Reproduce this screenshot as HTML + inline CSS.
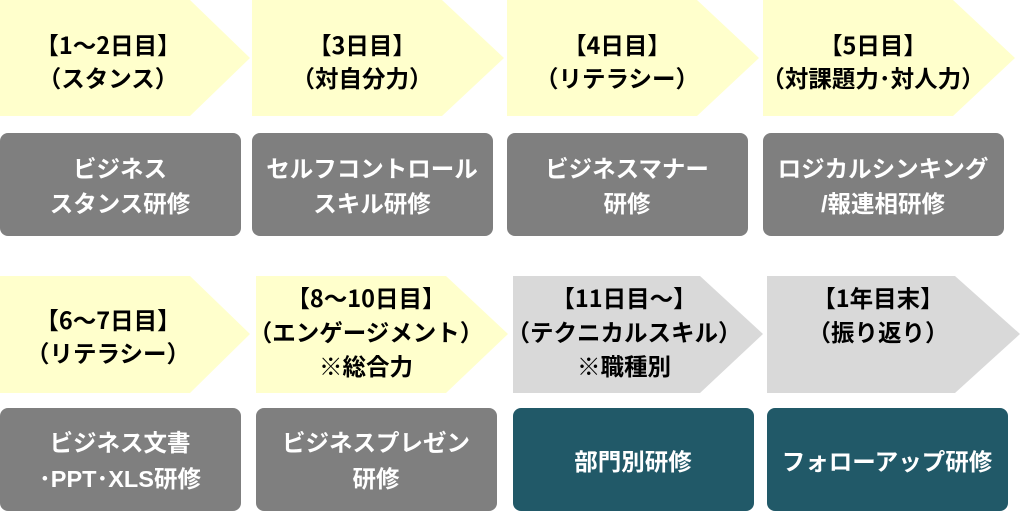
<!DOCTYPE html>
<html><head><meta charset="utf-8"><style>
html,body{margin:0;padding:0;background:#fff}
svg text{font-family:"Liberation Sans","Noto Sans CJK JP",sans-serif;font-weight:bold;font-size:23.5px;text-anchor:middle}
svg text.b{font-family:"Noto Sans CJK JP",sans-serif}
</style></head><body>
<svg width="1023" height="513" viewBox="0 0 1023 513" xmlns="http://www.w3.org/2000/svg">
<polygon points="0,0 190,0 250,58 190,116 0,116" fill="#FFFFCC"/>
<polygon points="252,0 442,0 504,58 442,116 252,116" fill="#FFFFCC"/>
<polygon points="507,0 697,0 759,58 697,116 507,116" fill="#FFFFCC"/>
<polygon points="763,0 953,0 1015,58 953,116 763,116" fill="#FFFFCC"/>
<g fill="#000">
<text class="b" x="108" y="54">【1～2日目】</text><text x="108" y="87">（スタンス）</text>
<text class="b" x="362" y="54">【3日目】</text><text x="362" y="87">（対自分力）</text>
<text class="b" x="617" y="54">【4日目】</text><text x="617" y="87">（リテラシー）</text>
<text class="b" x="873" y="54">【5日目】</text><text x="873" y="87">（対課題力･対人力）</text>
</g>
<rect x="0" y="133" width="241" height="103" rx="8" fill="#7F7F7F"/>
<rect x="252" y="133" width="241" height="103" rx="8" fill="#7F7F7F"/>
<rect x="507" y="133" width="241" height="103" rx="8" fill="#7F7F7F"/>
<rect x="763" y="133" width="241" height="103" rx="8" fill="#7F7F7F"/>
<g fill="#fff">
<text x="120" y="177">ビジネス</text><text x="120" y="212">スタンス研修</text>
<text x="372" y="177">セルフコントロール</text><text x="372" y="212">スキル研修</text>
<text x="627" y="177">ビジネスマナー</text><text x="627" y="212">研修</text>
<text x="883" y="177">ロジカルシンキング</text><text x="883" y="212">/報連相研修</text>
</g>
<polygon points="0,276 190,276 250,334 190,393 0,393" fill="#FFFFCC"/>
<polygon points="256,276 446,276 508,334 446,393 256,393" fill="#FFFFCC"/>
<polygon points="513,276 700,276 763,334 700,393 513,393" fill="#D9D9D9"/>
<polygon points="767,276 955,276 1020,334 955,393 767,393" fill="#D9D9D9"/>
<g fill="#000">
<text class="b" x="108" y="329">【6～7日目】</text><text x="108" y="362">（リテラシー）</text>
<text class="b" x="366" y="307">【8～10日目】</text><text x="366" y="341">（エンゲージメント）</text><text x="366" y="375">※総合力</text>
<text class="b" x="624" y="307">【11日目～】</text><text x="624" y="341">（テクニカルスキル）</text><text x="624" y="375">※職種別</text>
<text class="b" x="878" y="307">【1年目末】</text><text x="878" y="341">（振り返り）</text>
</g>
<rect x="0" y="408" width="241" height="103" rx="8" fill="#7F7F7F"/>
<rect x="256" y="408" width="241" height="103" rx="8" fill="#7F7F7F"/>
<rect x="513" y="408" width="241" height="103" rx="8" fill="#215968"/>
<rect x="767" y="408" width="241" height="103" rx="8" fill="#215968"/>
<g fill="#fff">
<text x="120" y="451">ビジネス文書</text><text x="120" y="487">･PPT･XLS研修</text>
<text x="376" y="451">ビジネスプレゼン</text><text x="376" y="487">研修</text>
<text x="633" y="470">部門別研修</text>
<text x="887" y="470">フォローアップ研修</text>
</g>
</svg>
</body></html>
